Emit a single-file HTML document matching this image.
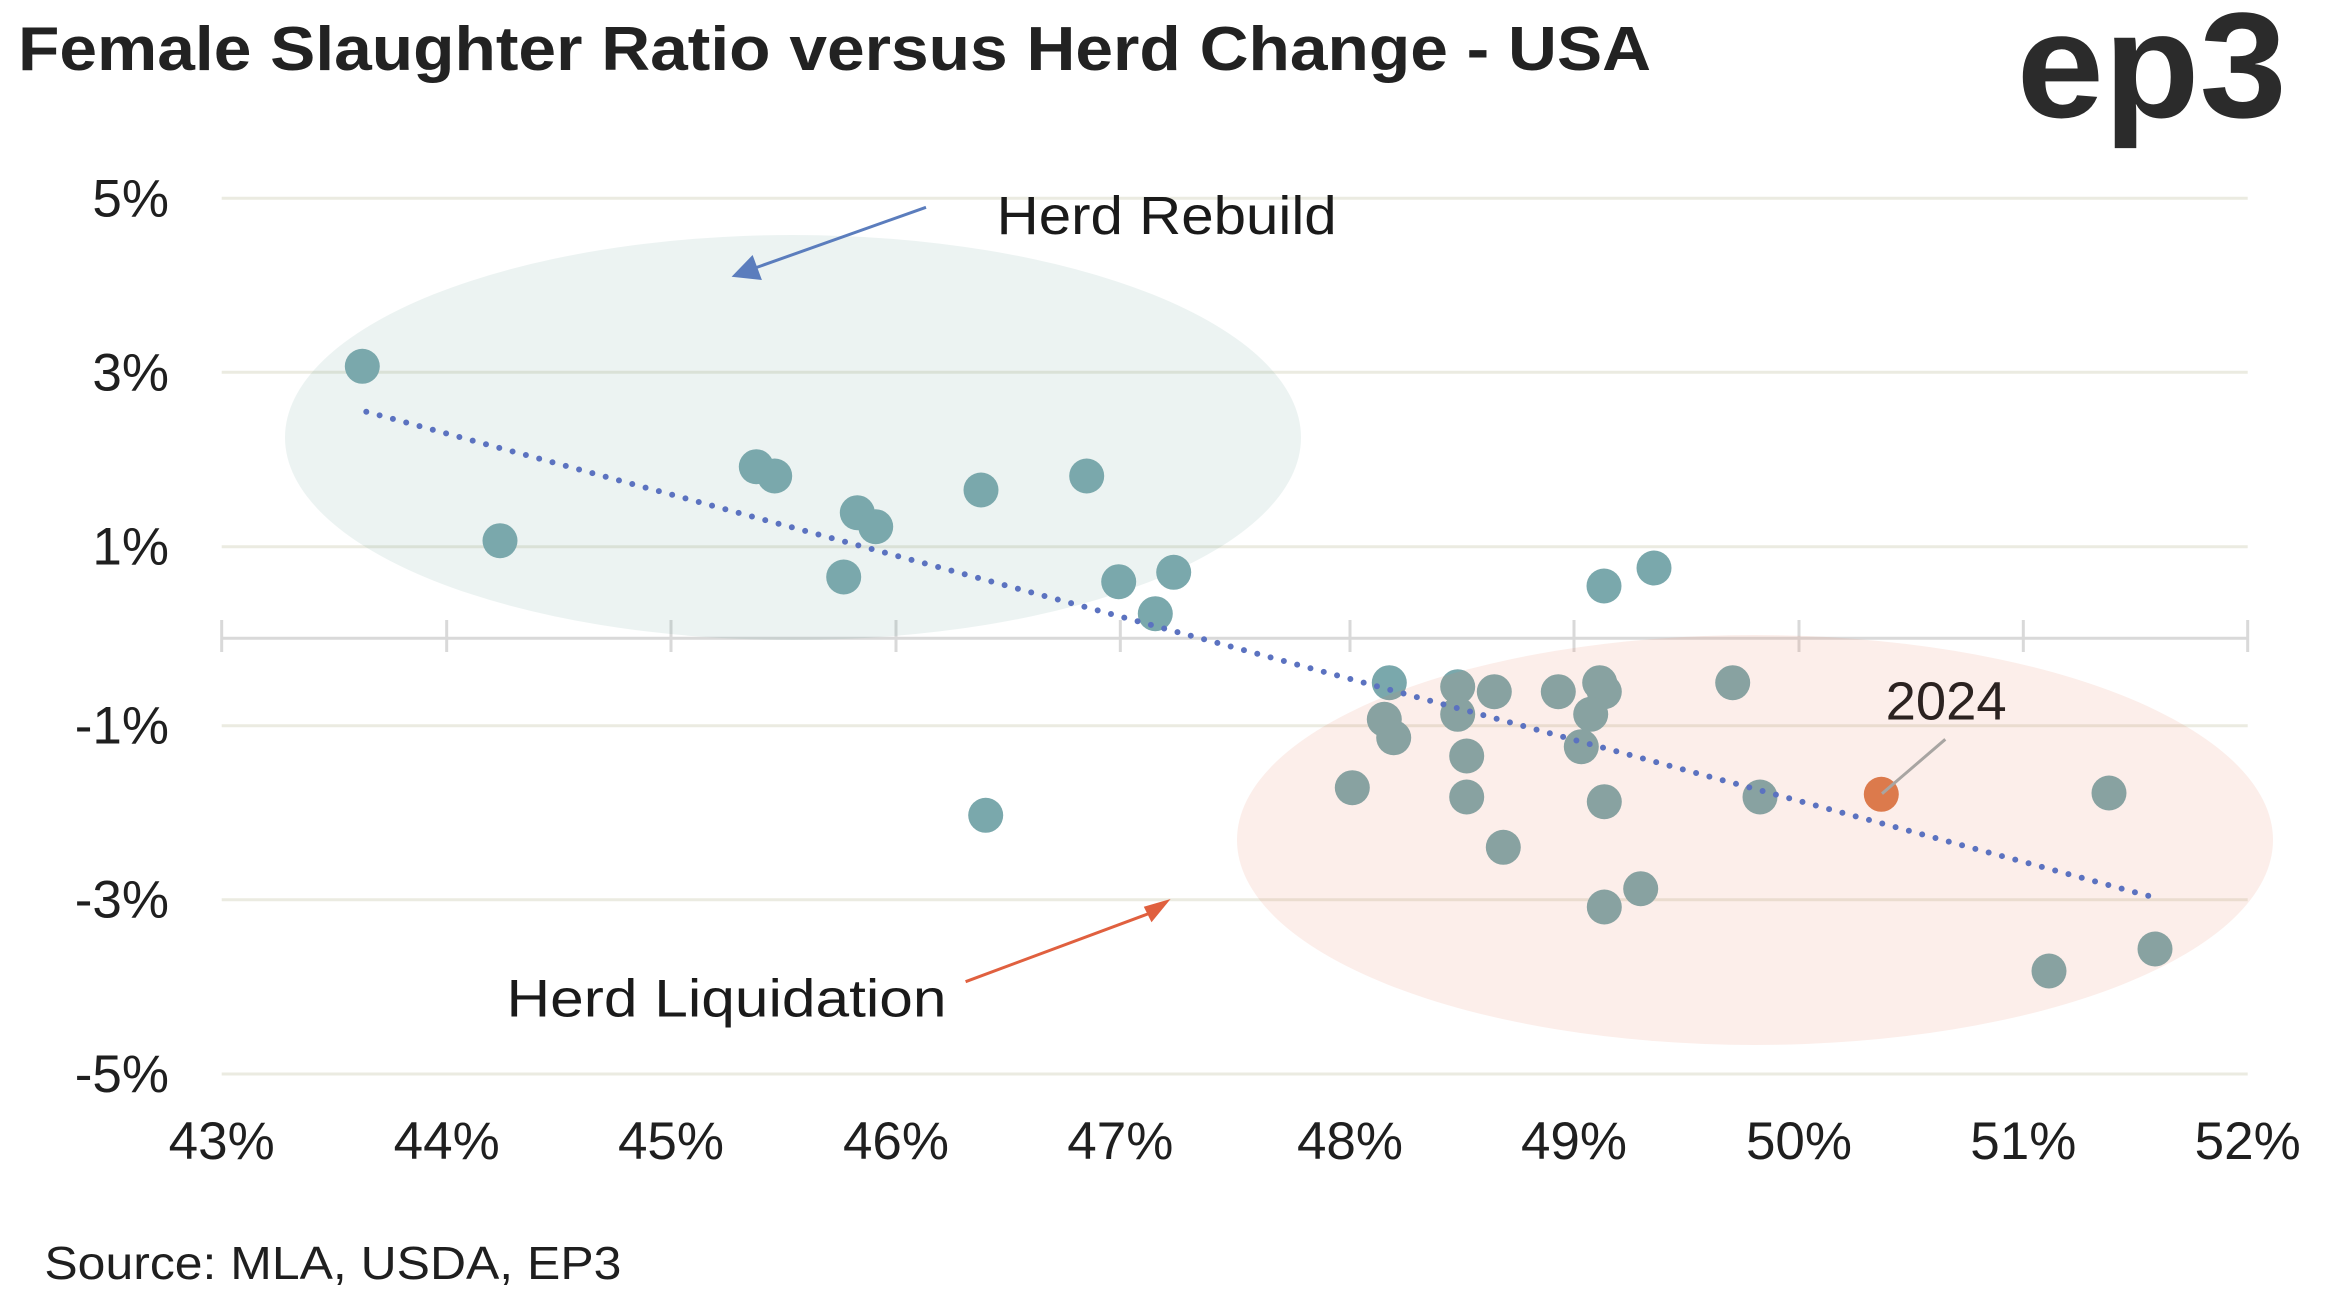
<!DOCTYPE html>
<html>
<head>
<meta charset="utf-8">
<style>
html,body{margin:0;padding:0;background:#ffffff;}
svg{display:block;}
text{font-family:"Liberation Sans",sans-serif;}
</style>
</head>
<body>
<svg width="2337" height="1301" viewBox="0 0 2337 1301" xmlns="http://www.w3.org/2000/svg">
<rect x="0" y="0" width="2337" height="1301" fill="#ffffff"/>

<!-- Title -->
<text x="18" y="70" font-size="62" font-weight="bold" fill="#222222" textLength="1633" lengthAdjust="spacingAndGlyphs">Female Slaughter Ratio versus Herd Change - USA</text>

<!-- Logo -->
<text x="2016.7" y="117" font-size="150" font-weight="bold" fill="#2b2b2b" textLength="270" lengthAdjust="spacingAndGlyphs">ep3</text>

<!-- Gridlines -->
<g stroke="#ebebe1" stroke-width="3">
<line x1="221.7" y1="198.3" x2="2247.7" y2="198.3"/>
<line x1="221.7" y1="372.3" x2="2247.7" y2="372.3"/>
<line x1="221.7" y1="546.7" x2="2247.7" y2="546.7"/>
<line x1="221.7" y1="725.7" x2="2247.7" y2="725.7"/>
<line x1="221.7" y1="899.7" x2="2247.7" y2="899.7"/>
<line x1="221.7" y1="1074" x2="2247.7" y2="1074"/>
</g>

<!-- Axis line + ticks -->
<g stroke="#d9d9d9" stroke-width="3">
<line x1="221.7" y1="638.3" x2="2247.7" y2="638.3"/>
<line x1="221.7" y1="620" x2="221.7" y2="652"/>
<line x1="446.7" y1="620" x2="446.7" y2="652"/>
<line x1="671" y1="620" x2="671" y2="652"/>
<line x1="896" y1="620" x2="896" y2="652"/>
<line x1="1120.3" y1="620" x2="1120.3" y2="652"/>
<line x1="1350" y1="620" x2="1350" y2="652"/>
<line x1="1574" y1="620" x2="1574" y2="652"/>
<line x1="1799" y1="620" x2="1799" y2="652"/>
<line x1="2023.3" y1="620" x2="2023.3" y2="652"/>
<line x1="2247.7" y1="620" x2="2247.7" y2="652"/>
</g>

<!-- Green ellipse overlay -->
<ellipse cx="793" cy="437.5" rx="508" ry="202.5" fill="rgb(100,160,150)" fill-opacity="0.1226"/>

<!-- Points -->
<g fill="#7aa8ac">
<circle cx="362.3" cy="366.3" r="17.5"/>
<circle cx="500" cy="540.7" r="17.5"/>
<circle cx="756.3" cy="466.7" r="17.5"/>
<circle cx="774.7" cy="476" r="17.5"/>
<circle cx="857.3" cy="512.7" r="17.5"/>
<circle cx="875.7" cy="526.7" r="17.5"/>
<circle cx="843.7" cy="577" r="17.5"/>
<circle cx="981" cy="490" r="17.5"/>
<circle cx="1086.7" cy="476" r="17.5"/>
<circle cx="1118.7" cy="581.7" r="17.5"/>
<circle cx="1173.7" cy="572.3" r="17.5"/>
<circle cx="1155.3" cy="613.7" r="17.5"/>
<circle cx="985.7" cy="815.3" r="17.5"/>
<circle cx="1604" cy="586" r="17.5"/>
<circle cx="1654" cy="568" r="17.5"/>
<circle cx="1389.3" cy="682.7" r="17.5"/>
<circle cx="1384.3" cy="719.3" r="17.5"/>
<circle cx="1393.7" cy="737.7" r="17.5"/>
<circle cx="1352.3" cy="787.7" r="17.5"/>
<circle cx="1457.7" cy="686.7" r="17.5"/>
<circle cx="1457.7" cy="714.3" r="17.5"/>
<circle cx="1466.7" cy="756" r="17.5"/>
<circle cx="1466.7" cy="797" r="17.5"/>
<circle cx="1494.3" cy="691.7" r="17.5"/>
<circle cx="1503.3" cy="847.3" r="17.5"/>
<circle cx="1558.3" cy="691.7" r="17.5"/>
<circle cx="1599.7" cy="682.7" r="17.5"/>
<circle cx="1604.3" cy="691.7" r="17.5"/>
<circle cx="1590.7" cy="714.3" r="17.5"/>
<circle cx="1581.3" cy="746.7" r="17.5"/>
<circle cx="1604.3" cy="801.7" r="17.5"/>
<circle cx="1604.3" cy="907" r="17.5"/>
<circle cx="1640.7" cy="888.7" r="17.5"/>
<circle cx="1732.7" cy="682.7" r="17.5"/>
<circle cx="1760" cy="797" r="17.5"/>
<circle cx="2109" cy="793" r="17.5"/>
<circle cx="2049" cy="971" r="17.5"/>
<circle cx="2155" cy="949" r="17.5"/>
</g>

<!-- Pink ellipse overlay -->
<ellipse cx="1755" cy="840" rx="518" ry="205" fill="rgb(235,125,95)" fill-opacity="0.13"/>

<!-- 2024 point -->
<circle cx="1881.3" cy="794.3" r="17.5" fill="#dc7a4c"/>

<!-- Trend line (dotted) -->
<line x1="366.3" y1="411.7" x2="2153" y2="897.1" stroke="#5b72c0" stroke-width="6" stroke-linecap="round" stroke-dasharray="0 13.78"/>

<!-- 2024 leader -->
<line x1="1945.3" y1="739.3" x2="1882" y2="793.7" stroke="#a8a5a2" stroke-width="3"/>

<!-- Arrows -->
<line x1="926" y1="207.3" x2="755" y2="268" stroke="#5b7dbd" stroke-width="3"/>
<polygon points="731.6,276.7 752.6,255 761.9,280" fill="#5b7dbd"/>
<line x1="965.6" y1="981.7" x2="1149" y2="913.5" stroke="#e0603f" stroke-width="3"/>
<polygon points="1170.6,899 1143.8,906.7 1151.5,922.3" fill="#e0603f"/>

<!-- Annotation text -->
<text x="996.7" y="234" font-size="54" fill="#1a1a1a" textLength="340" lengthAdjust="spacingAndGlyphs">Herd Rebuild</text>
<text x="506.5" y="1016.7" font-size="53" fill="#1a1a1a" textLength="440" lengthAdjust="spacingAndGlyphs">Herd Liquidation</text>
<text x="1885.7" y="719.3" font-size="54" fill="#2b2220" textLength="121" lengthAdjust="spacingAndGlyphs">2024</text>

<!-- Y labels -->
<g font-size="53" fill="#1f1f1f" text-anchor="end">
<text x="169" y="216.3">5%</text>
<text x="169" y="390.3">3%</text>
<text x="169" y="564.7">1%</text>
<text x="169" y="743.7">-1%</text>
<text x="169" y="917.7">-3%</text>
<text x="169" y="1092">-5%</text>
</g>

<!-- X labels -->
<g font-size="53" fill="#1f1f1f" text-anchor="middle">
<text x="221.7" y="1159">43%</text>
<text x="446.7" y="1159">44%</text>
<text x="671" y="1159">45%</text>
<text x="896" y="1159">46%</text>
<text x="1120.3" y="1159">47%</text>
<text x="1350" y="1159">48%</text>
<text x="1574" y="1159">49%</text>
<text x="1799" y="1159">50%</text>
<text x="2023.3" y="1159">51%</text>
<text x="2247.7" y="1159">52%</text>
</g>

<!-- Source -->
<text x="44.4" y="1279" font-size="46" fill="#1f1f1f" textLength="577" lengthAdjust="spacingAndGlyphs">Source: MLA, USDA, EP3</text>
</svg>
</body>
</html>
